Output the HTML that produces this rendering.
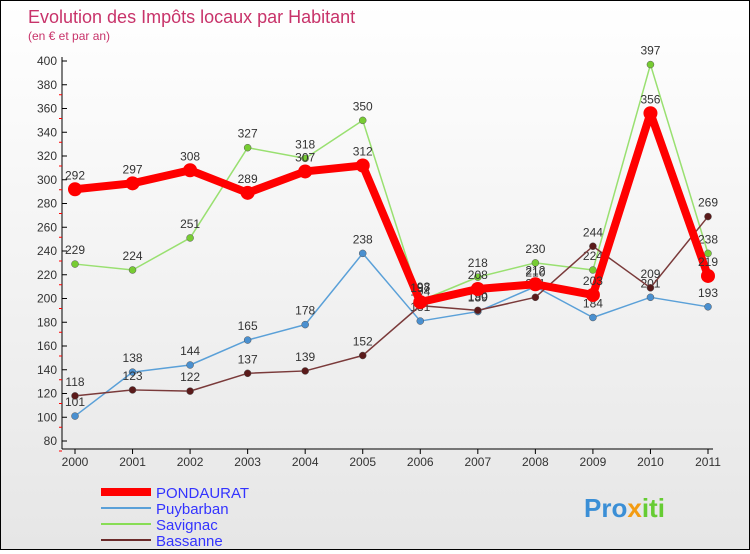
<!DOCTYPE html>
<html><head><meta charset="utf-8"><style>
body{margin:0}
#c{width:748px;height:548px;border:1px solid #000;background:linear-gradient(#fff,#e6e6e6);position:relative;font-family:"Liberation Sans",sans-serif}
</style></head><body>
<div id="c">
<svg id="s" width="748" height="548" xmlns="http://www.w3.org/2000/svg">
<text x="27" y="22" font-size="18" fill="#c8336a">Evolution des Impôts locaux par Habitant</text>
<text x="27" y="39" font-size="12" fill="#c8336a">(en € et par an)</text>
<g id="axes"></g><g id="series"></g>
<g>
<line x1="100" y1="491" x2="150" y2="491" stroke="#f00" stroke-width="8"/>
<text x="155" y="497" font-size="15" fill="#33f">PONDAURAT</text>
<line x1="100" y1="507" x2="150" y2="507" stroke="#5aa0d8" stroke-width="2"/>
<text x="155" y="513" font-size="15" fill="#33f">Puybarban</text>
<line x1="100" y1="523" x2="150" y2="523" stroke="#88dd55" stroke-width="2"/>
<text x="155" y="529" font-size="15" fill="#33f">Savignac</text>
<line x1="100" y1="539" x2="150" y2="539" stroke="#6b2a2a" stroke-width="2"/>
<text x="155" y="545" font-size="15" fill="#33f">Bassanne</text>
</g>
<text x="583" y="516" font-size="26" font-weight="bold" fill="#3b8fd6">Pro<tspan fill="#f39c12">x</tspan><tspan fill="#6c3">iti</tspan></text>
</svg></div>
<script>
const years=["2000","2001","2002","2003","2004","2005","2006","2007","2008","2009","2010","2011"];
const yTicks=[80,100,120,140,160,180,200,220,240,260,280,300,320,340,360,380,400];
const pondaurat=[292,297,308,289,307,312,197,208,212,203,356,219];
const puybarban=[101,138,144,165,178,238,181,189,210,184,201,193];
const savignac=[229,224,251,327,318,350,198,218,230,224,397,238];
const bassanne=[118,123,122,137,139,152,194,190,201,244,209,269];
const NS="http://www.w3.org/2000/svg";
const X=i=>74+i*(707-74)/11, Y=v=>440-(v-80)*380/320;
function mk(t,a,p){const e=document.createElementNS(NS,t);for(const k in a)e.setAttribute(k,a[k]);p.appendChild(e);return e;}
const ax=document.getElementById('axes'),se=document.getElementById('series');
let l=mk('line',{x1:61,y1:56,x2:61,y2:448,stroke:'#000'},ax);


l=mk('line',{x1:61,y1:448,x2:712,y2:448,stroke:'#000'},ax);


yTicks.forEach(v=>{const y=Y(v);
mk('line',{x1:61,y1:y,x2:66,y2:y,stroke:'#000'},ax);
if(v<400)mk('line',{x1:58,y1:y+10,x2:61,y2:y+10,stroke:'#f00'},ax);
const t=mk('text',{x:56,y:y+4,'font-size':12,'text-anchor':'end',fill:'#333'},ax);t.textContent=v;

});
years.forEach((yr,i)=>{const x=X(i);mk('line',{x1:x,y1:448,x2:x,y2:453,stroke:'#000'},ax);
const t=mk('text',{x:x,y:465,'font-size':12,'text-anchor':'middle',fill:'#333'},ax);t.textContent=yr;

});
function draw(d,name,col,w,r,fill){
const g=mk('g',{},se);


mk('polyline',{points:d.map((v,i)=>X(i)+','+Y(v)).join(' '),fill:'none',stroke:col,'stroke-width':w,'stroke-linejoin':'round'},g);
d.forEach((v,i)=>{const c=mk('circle',{cx:X(i),cy:Y(v),r:r,fill:fill,stroke:fill==col?'none':'#555','stroke-width':0.5},g);


const t=mk('text',{x:X(i),y:Y(v)-10,'font-size':12,'text-anchor':'middle',fill:'#333'},g);t.textContent=v;

});}
draw(puybarban,'puybarban','#5aa0d8',1.5,3.5,'#4a90d0');
draw(savignac,'savignac','#99e070',1.5,3.5,'#77cc33');
draw(bassanne,'bassanne','#7a3a3a',1.5,3.5,'#5a1a1a');
draw(pondaurat,'pondaurat','#f00',8,7,'#f00');
</script>
</body></html>
